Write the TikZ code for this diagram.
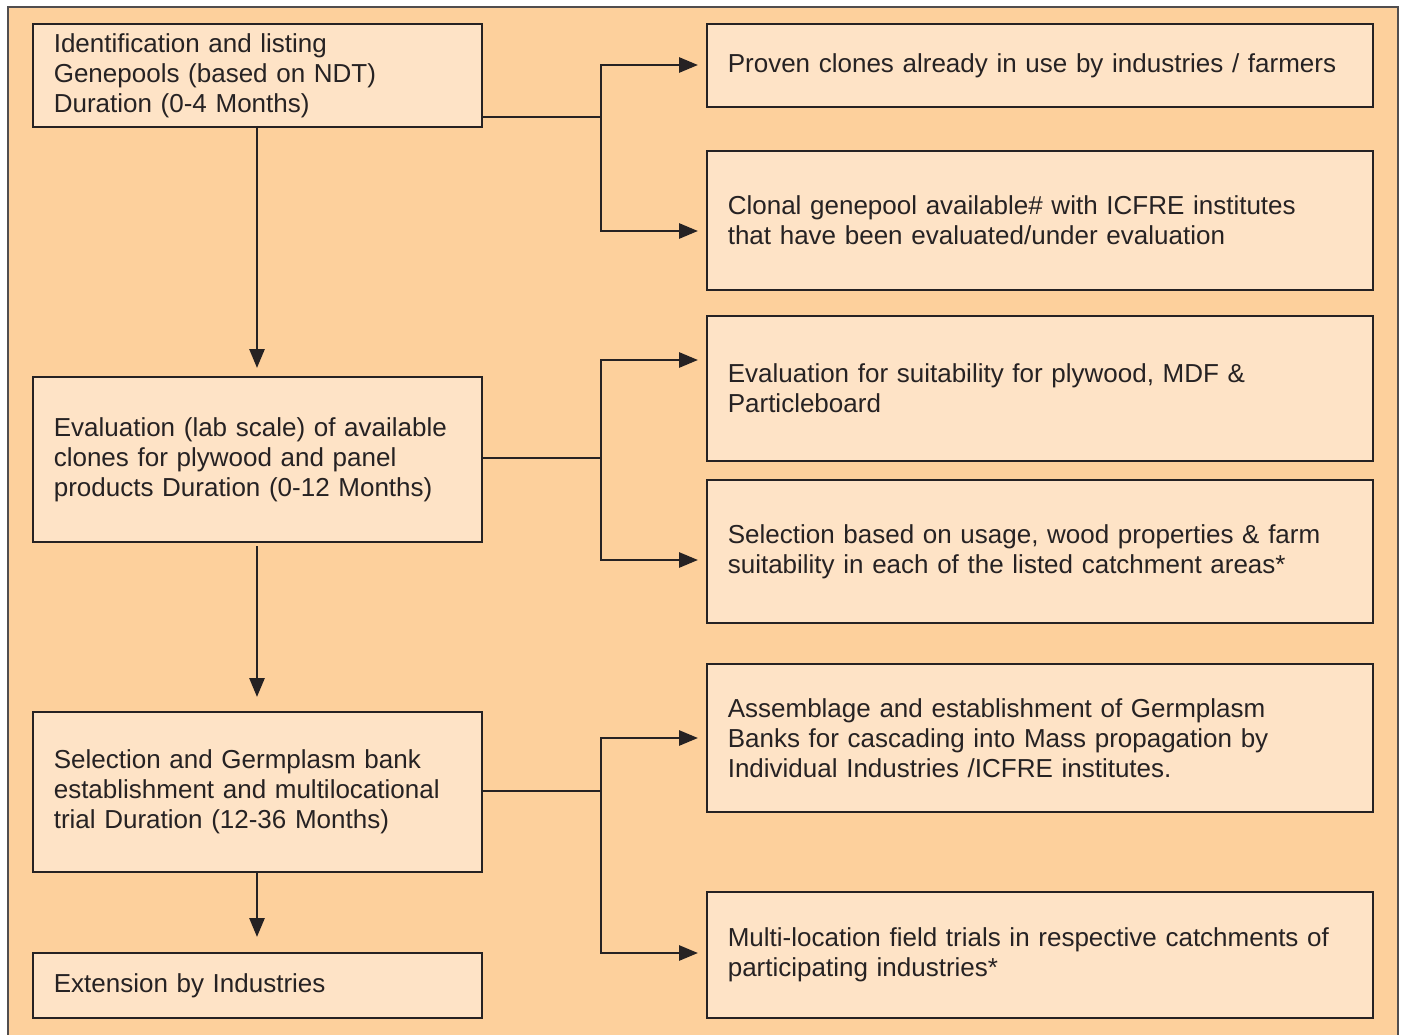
\documentclass[tikz,border=0pt]{standalone}
\usepackage{fontspec}
\setmainfont{Liberation Sans}
\usetikzlibrary{arrows.meta}
\definecolor{bgc}{HTML}{FDD09C}
\definecolor{boxc}{HTML}{FEE3C6}
\definecolor{linec}{HTML}{262223}
\begin{document}
\begin{tikzpicture}[x=1pt,y=-1pt,
  box/.style={draw=linec,line width=1.6pt,fill=boxc,anchor=north west,align=left,
    inner xsep=21pt,inner ysep=0pt,font=\fontsize{26}{30}\selectfont,text=linec},
  lbox/.style={box,text width=407pt,minimum width=449pt},
  rbox/.style={box,text width=624pt,minimum width=666pt},
  conn/.style={draw=linec,line width=2.8pt},
  arr/.style={conn,-{Triangle[length=19pt,width=15pt]}}]
\useasboundingbox (0,0) rectangle (1403,1035);
\path[fill=white] (0,0) rectangle (1403,1035);
\draw[fill=bgc,draw=linec!80,line width=1.5pt] (8,7) rectangle (1398,1045);
% left boxes
\node[lbox,minimum height=103pt] (L1) at (32,23) {Identification and listing\\Genepools (based on NDT)\\Duration (0-4 Months)};
\node[lbox,minimum height=165pt] (L2) at (32,376) {Evaluation (lab scale) of available\\clones for plywood and panel\\products Duration (0-12 Months)};
\node[lbox,minimum height=160pt] (L3) at (32,711) {Selection and Germplasm bank\\establishment and multilocational\\trial Duration (12-36 Months)};
\node[lbox,minimum height=65pt] (L4) at (32,952) {Extension by Industries};
% right boxes
\node[rbox,minimum height=83pt] (R1) at (706,23) {Proven clones already in use by industries / farmers};
\node[rbox,minimum height=139pt] (R2) at (706,150) {Clonal genepool available\# with ICFRE institutes\\that have been evaluated/under evaluation};
\node[rbox,minimum height=145pt] (R3) at (706,315) {Evaluation for suitability for plywood, MDF \&\\Particleboard};
\node[rbox,minimum height=143pt] (R4) at (706,479) {Selection based on usage, wood properties \& farm\\suitability in each of the listed catchment areas*};
\node[rbox,minimum height=148pt] (R5) at (706,663) {Assemblage and establishment of Germplasm\\Banks for cascading into Mass propagation by\\Individual Industries /ICFRE institutes.};
\node[rbox,minimum height=126pt] (R6) at (706,891) {Multi-location field trials in respective catchments of\\participating industries*};
% junction coordinates
\coordinate (J1) at (601,117);
\coordinate (J2) at (601,458);
\coordinate (J3) at (601,791);
% branch connectors
\draw[conn] (L1.east |- J1) -- (J1);
\draw[arr] (J1) |- ([xshift=-8pt]R1.west |- 0,65);
\draw[arr] (J1) |- ([xshift=-8pt]R2.west |- 0,231);
\draw[conn] (L2.east |- J2) -- (J2);
\draw[arr] (J2) |- ([xshift=-8pt]R3.west |- 0,360);
\draw[arr] (J2) |- ([xshift=-8pt]R4.west |- 0,560);
\draw[conn] (L3.east |- J3) -- (J3);
\draw[arr] (J3) |- ([xshift=-8pt]R5.west |- 0,738);
\draw[arr] (J3) |- ([xshift=-8pt]R6.west |- 0,953);
% vertical arrows
\draw[arr] (257,126) -- ([yshift=8pt]L2.north -| 257,0);
\draw[arr] (257,546) -- ([yshift=14pt]L3.north -| 257,0);
\draw[arr] (L3.south -| 257,0) -- ([yshift=15pt]L4.north -| 257,0);
\end{tikzpicture}
\end{document}
